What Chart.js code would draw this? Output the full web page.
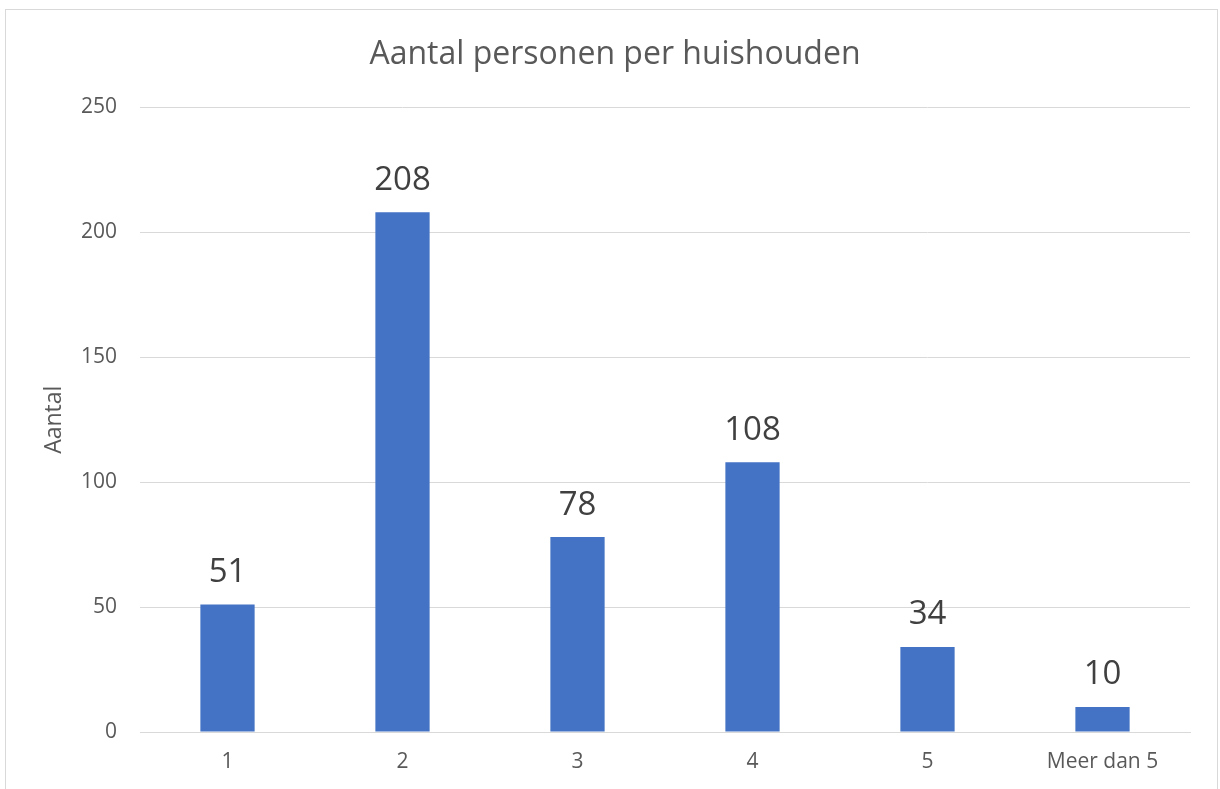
<!DOCTYPE html>
<html lang="nl">
<head>
  <meta charset="UTF-8">
  <title>Aantal personen per huishouden</title>
  <script src="https://cdn.jsdelivr.net/npm/chart.js"></script>
  <style>
    * { box-sizing: border-box; margin: 0; padding: 0; }
    html, body { width: 1220px; height: 789px; overflow: hidden; background: #fff; }
    .frame {
      position: absolute;
      left: 5px;
      top: 9px;
      width: 1213px;
      height: 820px;
      border: 1px solid #d9d9d9;
    }
    #wrap { position: absolute; left: 0; top: 0; width: 1220px; height: 789px; }
  </style>
</head>
<body>

<div class="frame"></div>
<div id="wrap"><canvas id="chart"></canvas></div>

<script>
  // chart data
  const categories = ['1', '2', '3', '4', '5', 'Meer dan 5'];
  const counts = [51, 208, 78, 108, 34, 10];
  const yTicks = [0, 50, 100, 150, 200, 250];

  const font = '"Open Sans", "Noto Sans", sans-serif';

  // value labels above the bars
  const barLabels = {
    id: 'barLabels',
    afterDatasetsDraw(chart) {
      const ctx = chart.ctx;
      const meta = chart.getDatasetMeta(0);
      ctx.save();
      ctx.font = '33px ' + font;
      ctx.fillStyle = '#404040';
      ctx.textAlign = 'center';
      ctx.textBaseline = 'middle';
      meta.data.forEach((bar, i) => {
        ctx.fillText(String(counts[i]), bar.x, bar.y - 32);
      });
      ctx.restore();
    }
  };

  new Chart(document.getElementById('chart'), {
    type: 'bar',
    data: {
      labels: categories,
      datasets: [{
        label: 'Aantal',
        data: counts,
        backgroundColor: '#4472c4',
        borderWidth: 0,
        categoryPercentage: 1,
        barPercentage: 0.31
      }]
    },
    options: {
      responsive: true,
      maintainAspectRatio: false,
      animation: false,
      layout: { padding: { left: 40, right: 30, top: 0, bottom: 0 } },
      plugins: {
        legend: { display: false },
        tooltip: { enabled: false },
        title: {
          display: true,
          text: 'Aantal personen per huishouden',
          color: '#595959',
          font: { family: font, size: 32, weight: 'normal', lineHeight: 1.2 },
          padding: { top: 36, bottom: 33 }
        }
      },
      scales: {
        x: {
          grid: { display: false, drawTicks: false },
          border: { display: true, color: '#d9d9d9', width: 1 },
          ticks: {
            color: '#595959',
            font: { family: font, size: 21 },
            padding: 17,
            maxRotation: 0
          },
          afterFit(scale) { scale.height = 57; }
        },
        y: {
          min: 0,
          max: 250,
          afterBuildTicks(scale) { scale.ticks = yTicks.map(v => ({ value: v })); },
          grid: { color: '#d9d9d9', drawTicks: false },
          border: { display: false },
          ticks: {
            color: '#595959',
            font: { family: font, size: 21 },
            padding: 23
          },
          title: {
            display: true,
            text: 'Aantal',
            color: '#595959',
            font: { family: font, size: 23 },
            padding: { top: 1, bottom: 0 }
          },
          afterFit(scale) { scale.width = 100; }
        }
      }
    },
    plugins: [barLabels]
  });
</script>

</body>
</html>
